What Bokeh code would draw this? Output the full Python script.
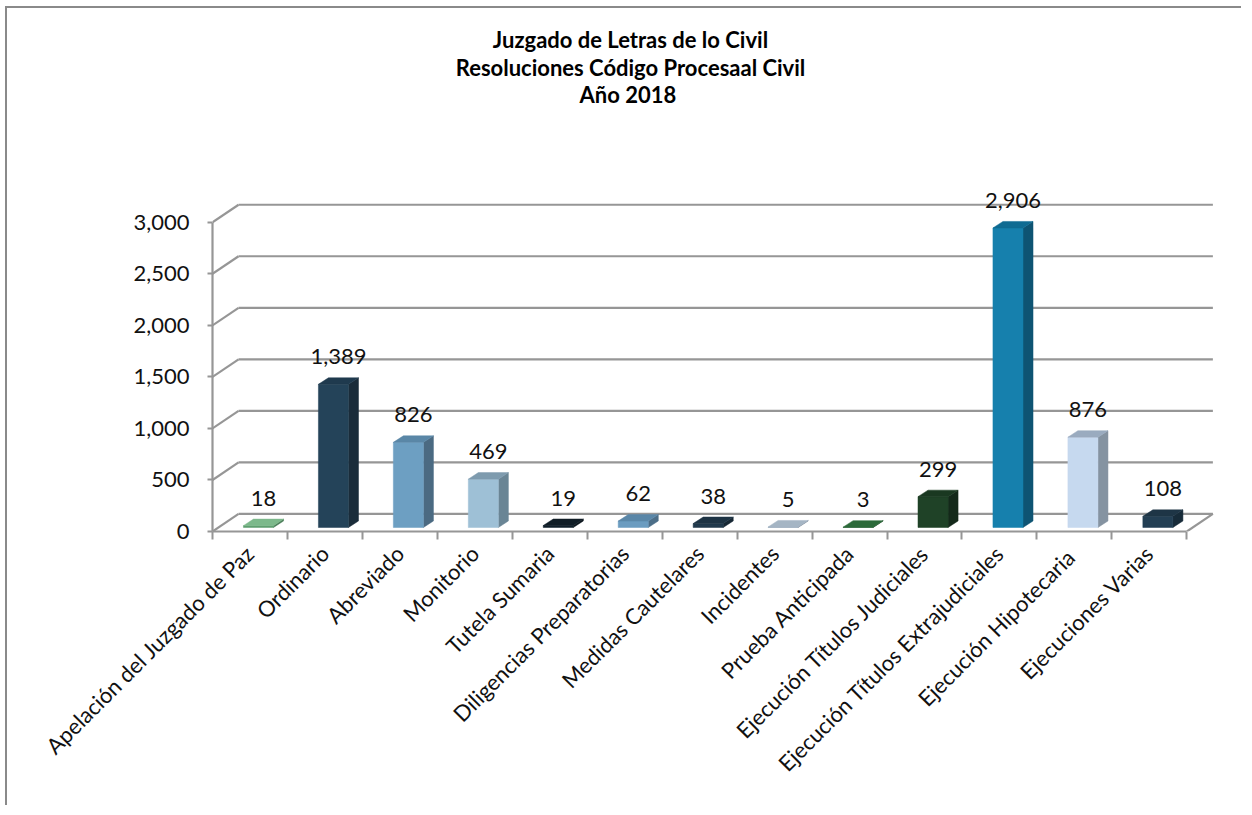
import math
from bokeh.plotting import figure
from bokeh.models import Range1d, FixedTicker, NumeralTickFormatter, Label
from bokeh.core.properties import value
from bokeh.embed import file_html
from bokeh.resources import INLINE

# ---------------- data ----------------
categories = [
    "Apelación del Juzgado de Paz", "Ordinario", "Abreviado", "Monitorio",
    "Tutela Sumaria", "Diligencias Preparatorias", "Medidas Cautelares",
    "Incidentes", "Prueba Anticipada", "Ejecución Títulos Judiciales",
    "Ejecución Títulos Extrajudiciales", "Ejecución  Hipotecaria",
    "Ejecuciones Varias",
]
values = [18, 1389, 826, 469, 19, 62, 38, 5, 3, 299, 2906, 876, 108]
value_labels = [f"{v:,}" for v in values]
y_ticks = [0, 500, 1000, 1500, 2000, 2500, 3000]
title_lines = ["Juzgado de Letras de lo Civil",
               "Resoluciones Código Procesaal Civil",
               "Año  2018"]

front_colors = ["#5f9e70", "#244359", "#6d9fc2", "#9ec0d6", "#13222d",
                "#6b9cc0", "#223a4d", "#97a9bb", "#245a30", "#1f4227",
                "#1680ad", "#c6d9ef", "#233f54"]
side_colors = ["#4a7d58", "#1a2c3a", "#4b6a82", "#6a8595", "#0c161d",
               "#4c6e88", "#162734", "#7a8897", "#1a4222", "#14291a",
               "#0e5473", "#8593a1", "#172b39"]
top_colors = ["#7cb98b", "#1f3a4e", "#5a87a7", "#7e9bae", "#101d26",
              "#5a87a8", "#1d3344", "#a5b5c4", "#2c6a3a", "#1a3821",
              "#0f6b92", "#9aabbf", "#1e3546"]

# ---------------- layout (pixels) ----------------
FIG_W, FIG_H = 1236, 799
MB_L, MB_R, MB_T, MB_B = 205, 22, 4, 276
frame_w = FIG_W - 2 - MB_L - MB_R
frame_h = FIG_H - 2 - MB_T - MB_B
PX_PER_CAT = 74.8
PX_PER_UNIT = 0.10267
x_start = -0.5
x_end = x_start + frame_w / PX_PER_CAT
y_end = frame_h / PX_PER_UNIT

def dx(px):
    return px / PX_PER_CAT

def dy(px):
    return px / PX_PER_UNIT

WALL_DX, WALL_DY = dx(26), dy(17.5)
BAR_OFF_X, BAR_OFF_Y = dx(8.5), dy(4)
BAR_DX, BAR_DY = dx(10), dy(6.5)
BAR_HALF_W = dx(15)

GRID_COLOR = "#969696"

p = figure(width=FIG_W, height=FIG_H,
           x_range=Range1d(x_start, x_end), y_range=Range1d(0, y_end),
           output_backend="svg", toolbar_location=None,
           min_border_left=MB_L, min_border_right=MB_R,
           min_border_top=MB_T, min_border_bottom=MB_B,
           outline_line_color=None,
           background_fill_color="white", border_fill_color="white")
p.styles = {"margin-left": "5px", "margin-top": "6px",
            "border-left": "2px solid #8a8a8a", "border-top": "2px solid #8a8a8a"}
p.grid.visible = False

# ---------------- walls ----------------
n = len(categories)
left_edge, right_edge = -0.5, n - 0.5
p.multi_line(xs=[[left_edge + WALL_DX, right_edge + WALL_DX] for t in y_ticks],
             ys=[[t + WALL_DY, t + WALL_DY] for t in y_ticks],
             line_color=GRID_COLOR, line_width=2.2)
diag_xs = [[left_edge, left_edge + WALL_DX] for t in y_ticks] + [[right_edge, right_edge + WALL_DX]]
diag_ys = [[t, t + WALL_DY] for t in y_ticks] + [[0, WALL_DY]]
p.multi_line(xs=diag_xs, ys=diag_ys, line_color=GRID_COLOR, line_width=2.2)

# ---------------- bars ----------------
lefts, rights, bottoms, tops = [], [], [], []
side_xs, side_ys, top_xs, top_ys = [], [], [], []
lab_x, lab_y = [], []
for i, v in enumerate(values):
    cx = i + BAR_OFF_X
    L, R = cx - BAR_HALF_W, cx + BAR_HALF_W
    b = BAR_OFF_Y
    t = b + v
    lefts.append(L); rights.append(R); bottoms.append(b); tops.append(t)
    side_xs.append([R, R + BAR_DX, R + BAR_DX, R])
    side_ys.append([b, b + BAR_DY, t + BAR_DY, t])
    top_xs.append([L, L + BAR_DX, R + BAR_DX, R])
    top_ys.append([t, t + BAR_DY, t + BAR_DY, t])
    lab_x.append(cx + BAR_DX / 2)
    lab_y.append(t + BAR_DY)

p.patches(xs=side_xs, ys=side_ys, fill_color=side_colors, line_color=side_colors, line_width=0.5)
p.quad(left=lefts, right=rights, bottom=bottoms, top=tops,
       fill_color=front_colors, line_color=front_colors, line_width=0.5)
p.patches(xs=top_xs, ys=top_ys, fill_color=top_colors, line_color=top_colors, line_width=0.5)

p.text(x=lab_x, y=lab_y, text=value_labels, text_align="center",
       text_baseline="middle", y_offset=-21,
       text_font=value("Lato"), text_font_size="22px", text_color="#111111")

# ---------------- axes ----------------
ya = p.yaxis[0]
ya.ticker = FixedTicker(ticks=y_ticks)
ya.bounds = (0, y_ticks[-1])
ya.formatter = NumeralTickFormatter(format="0,0")
ya.axis_line_color = GRID_COLOR
ya.axis_line_width = 2.2
ya.major_tick_line_color = GRID_COLOR
ya.major_tick_line_width = 2
ya.major_tick_out = 5
ya.major_tick_in = 0
ya.minor_tick_line_color = None
ya.major_label_standoff = 18
ya.major_label_text_font = "Lato"
ya.major_label_text_font_size = "22px"
ya.major_label_text_color = "#111111"

xa = p.xaxis[0]
xa.ticker = FixedTicker(ticks=list(range(n)), minor_ticks=[i - 0.5 for i in range(n + 1)])
xa.major_label_overrides = {i: c for i, c in enumerate(categories)}
xa.bounds = (left_edge, right_edge)
xa.axis_line_color = GRID_COLOR
xa.axis_line_width = 2.2
xa.major_tick_line_color = None
xa.major_tick_out = 0
xa.major_tick_in = 0
xa.minor_tick_line_color = GRID_COLOR
xa.minor_tick_line_width = 2
xa.minor_tick_out = 8
xa.minor_tick_in = 0
xa.major_label_orientation = math.pi / 4
xa.major_label_standoff = 10
xa.major_label_text_font = "Lato"
xa.major_label_text_font_size = "22px"
xa.major_label_text_color = "#111111"

# ---------------- title ----------------
for k, line in enumerate(title_lines):
    p.add_layout(Label(x=418, y=492 - 27.5 * k, x_units="screen", y_units="screen",
                       text=line, text_align="center", text_baseline="middle",
                       text_font="Lato", text_font_style="bold",
                       text_font_size="22px", text_color="#000000"))

open("out.html", "w").write(file_html(p, INLINE))
